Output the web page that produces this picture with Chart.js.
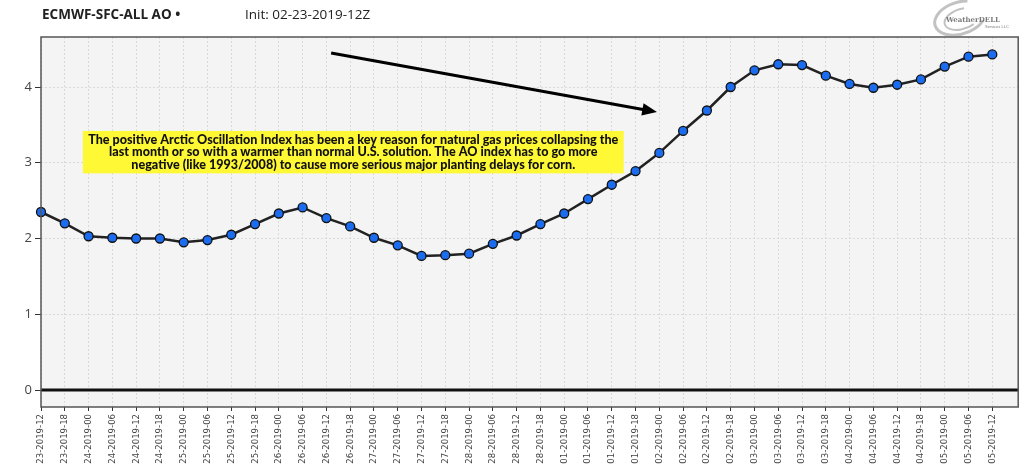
<!DOCTYPE html>
<html>
<head>
<meta charset="utf-8">
<script src="https://cdn.jsdelivr.net/npm/chart.js@4.4.1/dist/chart.umd.min.js"></script>
<style>
  html, body { margin: 0; padding: 0; background: #fff; }
  #wrap { position: relative; width: 1024px; height: 467px; }
  #title { position: absolute; left: 42px; top: 5px; font: bold 13.5px "Open Sans", sans-serif; color: #222; }
  #init { position: absolute; left: 245px; top: 5px; font: 13.5px "Open Sans", sans-serif; color: #222; }
</style>
</head>
<body>
<div id="wrap">
  <canvas id="aoChart" width="1024" height="467"></canvas>
  <div id="title">ECMWF-SFC-ALL AO &bull;</div>
  <div id="init">Init: 02-23-2019-12Z</div>
</div>
<script>
// forecast steps (day-month-hour)
const tickLabels = [
  '23-2019-12', '23-2019-18',
  '24-2019-00', '24-2019-06', '24-2019-12', '24-2019-18',
  '25-2019-00', '25-2019-06', '25-2019-12', '25-2019-18',
  '26-2019-00', '26-2019-06', '26-2019-12', '26-2019-18',
  '27-2019-00', '27-2019-06', '27-2019-12', '27-2019-18',
  '28-2019-00', '28-2019-06', '28-2019-12', '28-2019-18',
  '01-2019-00', '01-2019-06', '01-2019-12', '01-2019-18',
  '02-2019-00', '02-2019-06', '02-2019-12', '02-2019-18',
  '03-2019-00', '03-2019-06', '03-2019-12', '03-2019-18',
  '04-2019-00', '04-2019-06', '04-2019-12', '04-2019-18',
  '05-2019-00', '05-2019-06', '05-2019-12'
];
const aoValues = [
  2.35, 2.20, 2.03, 2.01, 2.00, 2.00, 1.95, 1.98, 2.05, 2.19,
  2.33, 2.41, 2.27, 2.16, 2.01, 1.91, 1.77, 1.78, 1.80, 1.93,
  2.04, 2.19, 2.33, 2.52, 2.71, 2.89, 3.13, 3.42, 3.69, 4.00,
  4.22, 4.30, 4.29, 4.15, 4.04, 3.99, 4.03, 4.10, 4.27, 4.40,
  4.43
];
const yTicks = [0, 1, 2, 3, 4];

const noteLines = [
  'The positive Arctic Oscillation Index has been a key reason for natural gas prices collapsing the',
  'last month or so with a warmer than normal U.S. solution. The AO index has to go more',
  'negative (like 1993/2008) to cause more serious major planting delays for corn.'
];
// note box and arrow anchored in data units
const noteBox = { x0: 1.76, x1: 24.5, y0: 3.42, y1: 2.86 };
const arrow = { x0: 12.2, y0: 4.45, x1: 25.9, y1: 3.67 };

const points = aoValues.map((v, i) => ({ x: i, y: v }));

const decorations = {
  id: 'decorations',
  beforeDraw(chart) {
    const { ctx, chartArea: a } = chart;
    ctx.save();
    ctx.fillStyle = '#f4f4f4';
    ctx.fillRect(a.left, a.top, a.right - a.left, a.bottom - a.top);
    ctx.restore();
  },
  beforeDatasetsDraw(chart) {
    const { ctx, chartArea: a, scales: { x, y } } = chart;
    ctx.save();
    // zero line
    const zy = y.getPixelForValue(0);
    ctx.strokeStyle = '#111';
    ctx.lineWidth = 3;
    ctx.beginPath();
    ctx.moveTo(a.left, zy);
    ctx.lineTo(a.right, zy);
    ctx.stroke();

    // note box
    const bx0 = x.getPixelForValue(noteBox.x0), bx1 = x.getPixelForValue(noteBox.x1);
    const by0 = y.getPixelForValue(noteBox.y0), by1 = y.getPixelForValue(noteBox.y1);
    ctx.fillStyle = '#fff835';
    ctx.fillRect(bx0, by0, bx1 - bx0, by1 - by0);
    ctx.fillStyle = '#111';
    ctx.textAlign = 'center';
    ctx.textBaseline = 'middle';
    let size = 12;
    ctx.font = '900 ' + size + 'px Lato, sans-serif';
    const w = ctx.measureText(noteLines[0]).width;
    size = size * (bx1 - bx0 - 10) / w;
    ctx.font = '900 ' + size.toFixed(2) + 'px Lato, sans-serif';
    const cx = (bx0 + bx1) / 2, lh = (by1 - by0) / 3.4;
    const cy = (by0 + by1) / 2;
    noteLines.forEach((t, i) => ctx.fillText(t, cx, cy + (i - 1) * lh));

    // arrow
    const ax0 = x.getPixelForValue(arrow.x0), ay0 = y.getPixelForValue(arrow.y0);
    const ax1 = x.getPixelForValue(arrow.x1), ay1 = y.getPixelForValue(arrow.y1);
    const ang = Math.atan2(ay1 - ay0, ax1 - ax0);
    const head = 16;
    ctx.strokeStyle = '#000';
    ctx.lineWidth = 3;
    ctx.beginPath();
    ctx.moveTo(ax0, ay0);
    ctx.lineTo(ax1 - head * 0.8 * Math.cos(ang), ay1 - head * 0.8 * Math.sin(ang));
    ctx.stroke();
    ctx.fillStyle = '#000';
    ctx.beginPath();
    ctx.moveTo(ax1, ay1);
    ctx.lineTo(ax1 - head * Math.cos(ang - 0.4), ay1 - head * Math.sin(ang - 0.4));
    ctx.lineTo(ax1 - head * Math.cos(ang + 0.4), ay1 - head * Math.sin(ang + 0.4));
    ctx.closePath();
    ctx.fill();
    ctx.restore();
  },
  afterDraw(chart) {
    const { ctx, chartArea: a } = chart;
    ctx.save();
    ctx.strokeStyle = '#555';
    ctx.lineWidth = 1.5;
    ctx.strokeRect(a.left, a.top, a.right - a.left, a.bottom - a.top);

    // faint logo, top right
    ctx.strokeStyle = 'rgba(120,120,120,0.45)';
    ctx.lineWidth = 3;
    ctx.beginPath();
    ctx.ellipse(960, 18, 26, 16, -0.3, 0.6, 5.2);
    ctx.stroke();
    ctx.lineWidth = 2;
    ctx.beginPath();
    ctx.ellipse(962, 19, 18, 10, -0.3, 1.0, 5.0);
    ctx.stroke();
    ctx.fillStyle = 'rgba(90,90,90,0.8)';
    ctx.font = 'bold 7px "DejaVu Serif", serif';
    ctx.textBaseline = 'middle';
    ctx.fillText('WeatherDELL', 946, 20);
    ctx.font = '4px sans-serif';
    ctx.fillText('Services LLC', 985, 27);
    ctx.restore();
  }
};

new Chart(document.getElementById('aoChart'), {
  type: 'line',
  data: {
    datasets: [{
      label: 'AO',
      data: points,
      borderColor: '#222',
      borderWidth: 2.5,
      pointBackgroundColor: '#1c6cf0',
      pointBorderColor: '#111',
      pointBorderWidth: 1.3,
      pointRadius: 4.5,
      tension: 0,
      clip: false
    }]
  },
  options: {
    responsive: false,
    animation: false,
    layout: { padding: { top: 37, right: 5, left: 0, bottom: 0 } },
    plugins: { legend: { display: false }, tooltip: { enabled: false } },
    scales: {
      x: {
        type: 'linear',
        min: 0,
        max: 41.09,
        afterBuildTicks: s => { s.ticks = tickLabels.map((_, i) => ({ value: i })); },
        afterFit: s => { s.height = 60; },
        ticks: {
          autoSkip: false,
          maxRotation: 90,
          minRotation: 90,
          padding: 3,
          color: '#444',
          font: { family: '"DejaVu Sans Condensed", "Liberation Sans Narrow", sans-serif', size: 9.5 },
          callback: v => tickLabels[v]
        },
        grid: { color: '#dadada', tickColor: '#333', tickLength: 4, tickBorderDash: [] },
        border: { display: false, dash: [2, 2] }
      },
      y: {
        min: -0.224,
        max: 4.66,
        afterBuildTicks: s => { s.ticks = yTicks.map(v => ({ value: v })); },
        afterFit: s => { s.width = 41; },
        ticks: {
          padding: 3,
          color: '#444',
          font: { family: '"Open Sans", sans-serif', size: 13 },
          callback: v => String(v)
        },
        grid: { color: '#dadada', tickColor: '#333', tickLength: 6, tickBorderDash: [] },
        border: { display: false, dash: [2, 2] }
      }
    }
  },
  plugins: [decorations]
});
</script>
</body>
</html>
